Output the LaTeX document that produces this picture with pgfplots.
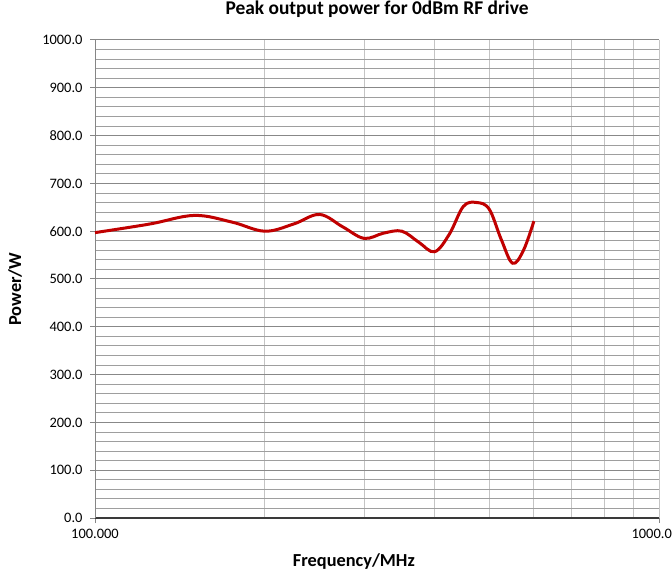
\documentclass[border=0pt]{standalone}
\usepackage{fontspec}
\setmainfont{Carlito}
\usepackage{pgfplots}
\pgfplotsset{compat=1.18}
\definecolor{curve}{HTML}{C00000}
\definecolor{majgrid}{HTML}{888888}
\definecolor{mingrid}{HTML}{9E9E9E}
\definecolor{xgrid}{HTML}{C4C4C4}
\definecolor{axisgray}{HTML}{868686}
\definecolor{xaxisdark}{HTML}{3A3A3A}
\begin{document}
\begin{tikzpicture}
\begin{axis}[
  at={(0,0)}, anchor=south west,
  scale only axis,
  width=564bp, height=478bp,
  xmode=log,
  xmin=100, xmax=1000,
  ymin=0, ymax=1000,
  xtick={100,1000},
  xticklabels={100.000,1000.000},
  minor xtick={200,300,400,500,600,700,800,900},
  ytick={0,100,...,1000},
  minor ytick={20,40,60,80,120,140,160,180,220,240,260,280,320,340,360,380,420,440,460,480,520,540,560,580,620,640,660,680,720,740,760,780,820,840,860,880,920,940,960,980},
  yticklabel style={xshift=-4bp, /pgf/number format/fixed, /pgf/number format/fixed zerofill, /pgf/number format/precision=1, /pgf/number format/1000 sep={}},
  /pgf/number format/assume math mode=true,
  axis x line*=bottom, axis y line*=left,
  axis line style={axisgray, line width=1bp, -},
  x axis line style={xaxisdark, line width=1.2bp},
  tick style={axisgray, line width=1bp},
  tick align=outside,
  major tick length=5bp, minor tick length=0bp,
  xmajorgrids, xminorgrids, ymajorgrids, yminorgrids,
  major grid style={majgrid, line width=1bp},
  minor grid style={mingrid, line width=0.9bp},
  x grid style={xgrid, line width=1bp},
  tick label style={font=\fontsize{14.5}{16}\selectfont, text=black},
  xticklabel style={yshift=-3bp},
  title={\textbf{Peak output power for 0dBm RF drive}},
  title style={font=\fontsize{19.5}{22}\selectfont, at={(axis description cs:0.5,1)}, anchor=center, yshift=25bp},
  xlabel={\textbf{Frequency/MHz}},
  xlabel style={font=\fontsize{18.4}{21}\selectfont, at={(axis description cs:0.459,0)}, anchor=center, yshift=-44bp},
  ylabel={\textbf{Power/W}},
  ylabel style={font=\fontsize{18.4}{21}\selectfont, at={(axis description cs:-0.1418,0.479)}, anchor=center},
  clip=false,
]
\addplot[curve, line width=3bp, smooth, tension=0.6] coordinates {
(100,597) (125,615) (150,633) (175,619) (200,600) (225,615) (250,635)
(275,609) (300,585) (325,596) (350,600) (375,577) (400,557) (425,594)
(450,652) (475,660) (500,646) (525,583) (550,533) (575,560) (600,621)
};
\end{axis}
\pgfresetboundingbox
\useasboundingbox (-95bp,-59bp) rectangle (577bp,518bp);
\end{tikzpicture}
\end{document}
